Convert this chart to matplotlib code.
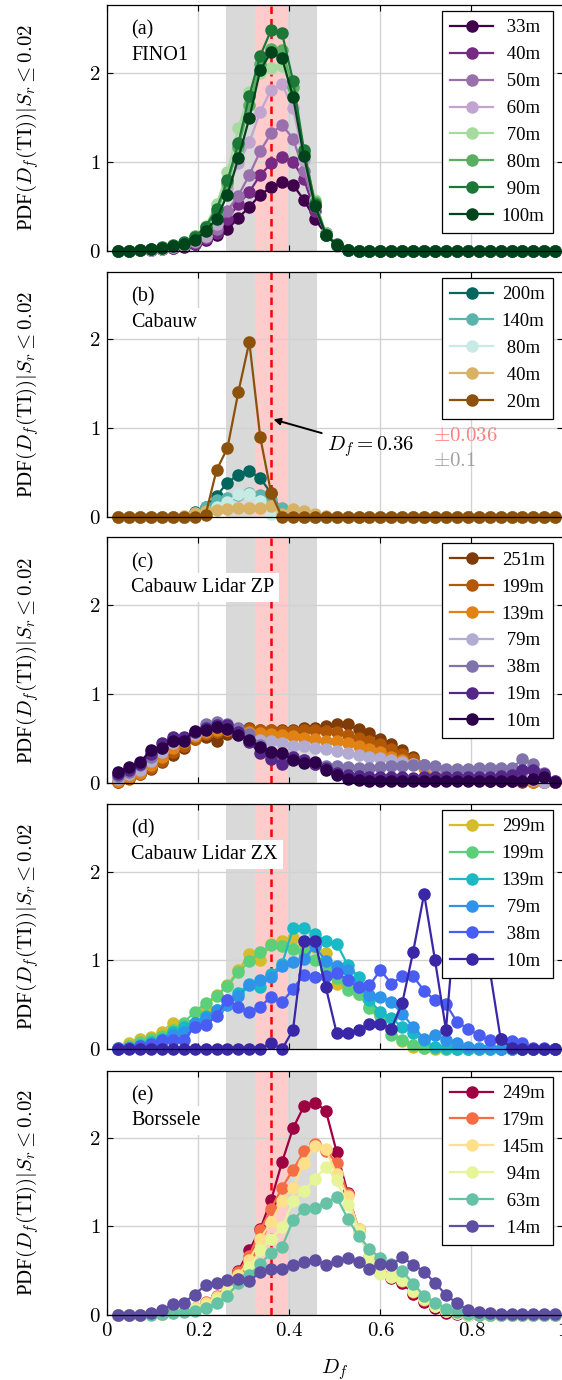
import numpy as np
import matplotlib
matplotlib.use('Agg')
import matplotlib.pyplot as plt

plt.rcParams['font.family'] = ['Liberation Serif', 'DejaVu Serif']
plt.rcParams['mathtext.fontset'] = 'cm'

# D_f bin positions (shared by every series)
df_bins = np.linspace(0.024, 0.984, 41)

x_ticks = [0, 0.2, 0.4, 0.6, 0.8, 1.0]
x_tick_labels = ['$0$', '$0.2$', '$0.4$', '$0.6$', '$0.8$', '$1$']
y_ticks = [0, 1, 2]
y_tick_labels = ['$0$', '$1$', '$2$']

Z19 = [0] * 19

# (a) FINO1
fino_labels = ['33m', '40m', '50m', '60m', '70m', '80m', '90m', '100m']
fino_colors = ['#40004b', '#762a83', '#9970ab', '#c2a5cf', '#a6dba0', '#5aae61', '#1b7837', '#00441b']
fino_33 = [0, 0, 0.01, 0.01, 0.02, 0.03, 0.04, 0.07, 0.12, 0.18, 0.24, 0.37, 0.49, 0.63, 0.71, 0.77, 0.74, 0.57, 0.36, 0.18, 0.06, 0.01] + Z19
fino_40 = [0, 0, 0.01, 0.01, 0.02, 0.03, 0.05, 0.08, 0.13, 0.2, 0.36, 0.52, 0.66, 0.85, 0.98, 1.05, 1.0, 0.8, 0.45, 0.2, 0.06, 0.01] + Z19
fino_50 = [0, 0, 0.01, 0.01, 0.02, 0.04, 0.06, 0.1, 0.15, 0.24, 0.45, 0.62, 0.85, 1.12, 1.32, 1.41, 1.26, 0.89, 0.5, 0.2, 0.06, 0.01] + Z19
fino_60 = [0, 0, 0.01, 0.01, 0.02, 0.04, 0.06, 0.11, 0.17, 0.3, 0.7, 0.98, 1.22, 1.56, 1.81, 1.87, 1.6, 1.02, 0.5, 0.18, 0.05, 0.01] + Z19
fino_70 = [0, 0, 0.01, 0.02, 0.03, 0.05, 0.08, 0.13, 0.28, 0.52, 0.88, 1.38, 1.78, 2.0, 2.05, 2.07, 1.82, 1.09, 0.57, 0.2, 0.06, 0.01] + Z19
fino_80 = [0, 0, 0.01, 0.02, 0.03, 0.05, 0.09, 0.16, 0.27, 0.44, 0.76, 1.17, 1.64, 2.1, 2.27, 2.25, 1.84, 1.11, 0.55, 0.19, 0.06, 0.01] + Z19
fino_90 = [0, 0, 0.01, 0.02, 0.04, 0.06, 0.1, 0.15, 0.27, 0.47, 0.79, 1.21, 1.74, 2.19, 2.48, 2.44, 1.91, 1.13, 0.53, 0.18, 0.07, 0.01] + Z19
fino_100 = [0, 0, 0.01, 0.02, 0.03, 0.05, 0.08, 0.12, 0.22, 0.36, 0.63, 1.04, 1.49, 2.03, 2.23, 2.16, 1.73, 1.06, 0.5, 0.18, 0.06, 0.01] + Z19

# (b) Cabauw
cab_labels = ['200m', '140m', '80m', '40m', '20m']
cab_colors = ['#01665e', '#5ab4ac', '#c7eae5', '#d8b365', '#8c510a']
cab_200 = [0] * 7 + [0.06, 0.12, 0.24, 0.39, 0.48, 0.52, 0.44, 0.27, 0.06, 0.01] + [0] * 24
cab_140 = [0] * 7 + [0.05, 0.12, 0.19, 0.22, 0.25, 0.27, 0.25, 0.2, 0.1, 0.03] + [0] * 24
cab_80 = [0] * 8 + [0.06, 0.12, 0.17, 0.26, 0.26, 0.18, 0.04, 0] + [0] * 25
cab_40 = [0] * 6 + [0.01, 0.05, 0.07, 0.08, 0.09, 0.1, 0.1, 0.11, 0.13, 0.04, 0.09, 0.07, 0.04, 0.02] + [0] * 21
cab_20 = [0] * 8 + [0.03, 0.53, 0.78, 1.41, 1.97, 0.9, 0.27, 0] + [0] * 25

# (c) Cabauw Lidar ZP
zp_labels = ['251m', '199m', '139m', '79m', '38m', '19m', '10m']
zp_colors = ['#7f3b08', '#b35806', '#e08214', '#b2abd2', '#8073ac', '#542788', '#2d004b']
zp_251 = [0.02, 0.06, 0.1, 0.16, 0.24, 0.32, 0.4, 0.5, 0.52, 0.47, 0.55, 0.6, 0.62, 0.6, 0.6, 0.6, 0.6, 0.62, 0.62, 0.64, 0.67,
          0.66, 0.61, 0.56, 0.5, 0.44, 0.37, 0.29, 0.2, 0.13, 0.08, 0.06, 0.04, 0.04, 0.03, 0.03, 0.03, 0.02, 0.02, 0.02, 0.01]
zp_199 = [0.02, 0.05, 0.1, 0.17, 0.25, 0.35, 0.42, 0.5, 0.55, 0.57, 0.6, 0.61, 0.61, 0.6, 0.6, 0.59, 0.59, 0.6, 0.6, 0.59, 0.57,
          0.54, 0.51, 0.47, 0.44, 0.39, 0.33, 0.27, 0.21, 0.16, 0.12, 0.09, 0.07, 0.06, 0.05, 0.04, 0.04, 0.03, 0.03, 0.02, 0.02]
zp_139 = [0.03, 0.07, 0.12, 0.2, 0.3, 0.4, 0.46, 0.53, 0.58, 0.6, 0.6, 0.58, 0.57, 0.56, 0.55, 0.54, 0.53, 0.51, 0.5, 0.48, 0.47,
          0.45, 0.42, 0.39, 0.35, 0.3, 0.26, 0.22, 0.17, 0.14, 0.11, 0.09, 0.07, 0.06, 0.05, 0.04, 0.04, 0.03, 0.02, 0.02, 0.01]
zp_79 = [0.05, 0.1, 0.15, 0.25, 0.35, 0.45, 0.5, 0.55, 0.6, 0.65, 0.65, 0.6, 0.55, 0.49, 0.47, 0.45, 0.42, 0.42, 0.4, 0.38, 0.36,
         0.34, 0.32, 0.3, 0.28, 0.26, 0.24, 0.22, 0.2, 0.17, 0.15, 0.13, 0.12, 0.11, 0.1, 0.09, 0.08, 0.07, 0.04, 0.02, 0.02]
zp_38 = [0.08, 0.13, 0.2, 0.3, 0.4, 0.5, 0.5, 0.58, 0.66, 0.69, 0.67, 0.62, 0.55, 0.43, 0.35, 0.3, 0.27, 0.26, 0.22, 0.19, 0.19,
         0.18, 0.17, 0.17, 0.18, 0.19, 0.19, 0.2, 0.2, 0.19, 0.16, 0.16, 0.16, 0.17, 0.17, 0.17, 0.17, 0.27, 0.22, 0.11, 0.03]
zp_19 = [0.1, 0.15, 0.22, 0.33, 0.45, 0.52, 0.52, 0.58, 0.62, 0.65, 0.65, 0.58, 0.46, 0.34, 0.27, 0.22, 0.29, 0.26, 0.22, 0.17, 0.12,
         0.09, 0.08, 0.07, 0.07, 0.07, 0.07, 0.06, 0.07, 0.07, 0.07, 0.07, 0.07, 0.07, 0.07, 0.08, 0.09, 0.15, 0.15, 0.1, 0.03]
zp_10 = [0.13, 0.18, 0.24, 0.37, 0.4, 0.48, 0.48, 0.59, 0.6, 0.63, 0.61, 0.54, 0.49, 0.41, 0.35, 0.34, 0.26, 0.23, 0.24, 0.15, 0.09,
         0.05, 0.04, 0.03, 0.03, 0.03, 0.03, 0.03, 0.03, 0.03, 0.03, 0.03, 0.03, 0.03, 0.03, 0.03, 0.03, 0.03, 0.05, 0.07, 0.02]

# (d) Cabauw Lidar ZX
zx_labels = ['299m', '199m', '139m', '79m', '38m', '10m']
zx_colors = ['#d4bc2c', '#5ccf7b', '#19b9c6', '#2f93ea', '#4a5df2', '#3a27a8']
zx_299 = [0.01, 0.07, 0.12, 0.14, 0.2, 0.3, 0.24, 0.3, 0.48, 0.61, 0.72, 0.89, 1.07, 1.0, 1.19, 1.22, 1.25, 1.2, 1.15, 1.08, 0.74,
          0.7, 0.62, 0.48, 0.3, 0.22, 0.09, 0.03, 0.01] + [0] * 12
zx_199 = [0.01, 0.04, 0.08, 0.12, 0.15, 0.22, 0.3, 0.42, 0.52, 0.6, 0.71, 0.87, 0.99, 1.09, 1.17, 1.16, 1.13, 1.1, 1.0, 0.9, 0.8,
          0.67, 0.62, 0.46, 0.38, 0.16, 0.1, 0.05, 0.02, 0.01] + [0] * 11
zx_139 = [0, 0.02, 0.05, 0.08, 0.12, 0.2, 0.25, 0.3, 0.38, 0.44, 0.55, 0.63, 0.74, 0.7, 0.85, 0.96, 1.36, 1.37, 1.3, 1.22, 1.19,
          0.95, 0.81, 0.55, 0.42, 0.35, 0.25, 0.18, 0.1, 0.03, 0.01] + [0] * 10
zx_79 = [0, 0.01, 0.03, 0.05, 0.08, 0.16, 0.2, 0.3, 0.35, 0.44, 0.5, 0.6, 0.72, 0.78, 0.81, 0.94, 0.98, 1.02, 1.16, 0.99, 0.94,
         0.89, 0.7, 0.61, 0.59, 0.53, 0.4, 0.25, 0.12, 0.16, 0.1, 0.07, 0.03, 0.02, 0.01] + [0] * 6
zx_38 = [0.01, 0.02, 0.04, 0.06, 0.1, 0.11, 0.11, 0.25, 0.27, 0.38, 0.56, 0.48, 0.42, 0.48, 0.59, 0.53, 0.68, 0.84, 0.81, 0.82, 0.86,
         0.78, 0.7, 0.72, 0.89, 0.74, 0.82, 0.82, 0.66, 0.55, 0.51, 0.31, 0.23, 0.16, 0.1, 0.12, 0.09, 0.07, 0.02, 0.01, 0]
zx_10 = [0] * 14 + [0.07, 0, 0.22, 1.22, 1.22, 0.7, 0.18, 0.18, 0.22, 0.29, 0.29, 0.23, 0.52, 1.1, 1.75, 1.0, 0.22,
                    1.7, 1.9, 1.4, 0.9, 0.12, 0.01, 0, 0, 0, 0]

# (e) Borssele
bor_labels = ['249m', '179m', '145m', '94m', '63m', '14m']
bor_colors = ['#9e0142', '#f46d43', '#fee08b', '#e6f598', '#66c2a5', '#5e4fa2']
bor_249 = [0, 0, 0, 0.01, 0.01, 0.03, 0.04, 0.07, 0.14, 0.2, 0.32, 0.5, 0.73, 0.97, 1.3, 1.73, 2.11, 2.36, 2.4, 2.31, 1.84,
           1.38, 0.96, 0.64, 0.47, 0.42, 0.36, 0.24, 0.15, 0.08, 0.02, 0.01] + [0] * 9
bor_179 = [0, 0, 0, 0.01, 0.01, 0.03, 0.05, 0.08, 0.15, 0.22, 0.33, 0.49, 0.67, 0.96, 1.2, 1.44, 1.64, 1.85, 1.93, 1.85, 1.72,
           1.37, 0.97, 0.66, 0.48, 0.44, 0.38, 0.26, 0.17, 0.1, 0.04, 0.02] + [0] * 9
bor_145 = [0, 0, 0, 0.01, 0.01, 0.03, 0.05, 0.08, 0.13, 0.2, 0.3, 0.45, 0.62, 0.86, 1.05, 1.29, 1.44, 1.72, 1.91, 1.87, 1.59,
           1.35, 0.97, 0.66, 0.48, 0.44, 0.4, 0.27, 0.18, 0.1, 0.05, 0.02] + [0] * 9
bor_94 = [0, 0, 0, 0.01, 0.01, 0.02, 0.04, 0.07, 0.1, 0.17, 0.26, 0.37, 0.54, 0.73, 0.86, 0.99, 1.29, 1.4, 1.54, 1.67, 1.52,
          1.24, 0.94, 0.64, 0.46, 0.43, 0.39, 0.27, 0.18, 0.1, 0.05, 0.02] + [0] * 9
bor_63 = [0, 0, 0, 0, 0.01, 0.02, 0.03, 0.05, 0.08, 0.13, 0.22, 0.36, 0.45, 0.58, 0.7, 0.77, 1.07, 1.2, 1.21, 1.27, 1.33,
          1.09, 0.89, 0.75, 0.64, 0.58, 0.5, 0.35, 0.22, 0.14, 0.07, 0.03, 0.01] + [0] * 8
bor_14 = [0, 0, 0, 0.02, 0.06, 0.12, 0.14, 0.23, 0.34, 0.36, 0.39, 0.41, 0.38, 0.49, 0.52, 0.52, 0.56, 0.6, 0.62, 0.57, 0.61,
          0.64, 0.6, 0.52, 0.58, 0.57, 0.65, 0.57, 0.49, 0.36, 0.23, 0.13, 0.06, 0.03, 0.02, 0.01, 0.01, 0.01, 0.01, 0.01, 0.01]

panels = [
    ('(a)', 'FINO1', fino_labels, fino_colors,
     [fino_33, fino_40, fino_50, fino_60, fino_70, fino_80, fino_90, fino_100]),
    ('(b)', 'Cabauw', cab_labels, cab_colors, [cab_200, cab_140, cab_80, cab_40, cab_20]),
    ('(c)', 'Cabauw Lidar ZP', zp_labels, zp_colors,
     [zp_251, zp_199, zp_139, zp_79, zp_38, zp_19, zp_10]),
    ('(d)', 'Cabauw Lidar ZX', zx_labels, zx_colors, [zx_299, zx_199, zx_139, zx_79, zx_38, zx_10]),
    ('(e)', 'Borssele', bor_labels, bor_colors, [bor_249, bor_179, bor_145, bor_94, bor_63, bor_14]),
]

df_center = 0.36
df_band_narrow = 0.036
df_band_wide = 0.1

ylabel = r'PDF$(D_f(\mathrm{TI}))|S_r \leq 0.02$'

W, H = 562, 1380
fig = plt.figure(figsize=(W / 100, H / 100), dpi=100)

# panel placement in pixels (top, bottom)
tops = [5, 271.7, 537.3, 804, 1070.7]
bottoms = [250.7, 517.3, 783.3, 1049.3, 1315]
left_px, right_px = 107.3, 562.5

axes = []
for i, (tag, name, labels, colors, series) in enumerate(panels):
    ax = fig.add_axes([left_px / W, 1 - bottoms[i] / H,
                       (right_px - left_px) / W, (bottoms[i] - tops[i]) / H])
    axes.append(ax)

    ax.axvspan(df_center - df_band_wide, df_center + df_band_wide, color='#d9d9d9', lw=0, zorder=0.1)
    ax.axvspan(df_center - df_band_narrow, df_center + df_band_narrow, color='#ffcccc', lw=0, zorder=0.2)
    ax.set_axisbelow(True)
    ax.grid(True, color='#d2d2d2', lw=1.0)
    ax.axvline(df_center, color='red', lw=1.8, ls=(0, (3, 2)), zorder=1.9)

    # legend labels are centred in the reference: pad the shorter ones
    longest = max(len(l) for l in labels)
    for vals, lab, col in zip(series, labels, colors):
        assert len(vals) == len(df_bins), (name, lab, len(vals))
        shown = '\u2005' * (longest - len(lab)) + lab
        ax.plot(df_bins, vals, '-o', color=col, lw=1.6, ms=8, label=shown, clip_on=False)

    ax.set_xlim(0, 1)
    ax.set_ylim(0, 2.76)
    ax.set_xticks(x_ticks)
    ax.set_yticks(y_ticks)
    ax.set_yticklabels(y_tick_labels)
    if i == len(panels) - 1:
        ax.set_xticklabels(x_tick_labels)
    else:
        ax.set_xticklabels([])
    ax.tick_params(direction='in', top=True, right=True, length=4, labelsize=15, pad=5)
    for sp in ax.spines.values():
        sp.set_linewidth(0.9)

    ax.set_ylabel(ylabel, fontsize=15)
    ax.yaxis.set_label_coords(-0.145, 0.5)

    ax.text(0.052, 0.898, tag, transform=ax.transAxes, fontsize=14.5, va='center', ha='left', zorder=6)
    ax.text(0.052, 0.795, name, transform=ax.transAxes, fontsize=14.5, va='center', ha='left', zorder=6,
            bbox=dict(facecolor='white', edgecolor='none', boxstyle='square,pad=0.25'))

    leg = ax.legend(loc='upper right', bbox_to_anchor=(0.979, 0.976), borderaxespad=0,
                    fancybox=False, edgecolor='black', framealpha=1, fontsize=13.5,
                    handlelength=2.3, handletextpad=0.45, labelspacing=0.52, borderpad=0.45)
    leg.get_frame().set_linewidth(0.9)
    leg.set_zorder(10)

# annotation in panel (b)
axb = axes[1]
axb.annotate('$D_f = 0.36$', xy=(0.365, 1.1), xytext=(0.483, 0.79), fontsize=15,
             va='center', ha='left', zorder=8,
             arrowprops=dict(arrowstyle='-|>', color='black', lw=1.4, shrinkA=2, shrinkB=0,
                             mutation_scale=10))
axb.text(0.716, 0.91, r'$\pm 0.036$', color='#ff8080', fontsize=15, va='center', ha='left')
axb.text(0.716, 0.63, r'$\pm 0.1$', color='#a0a0a0', fontsize=15, va='center', ha='left')

axes[-1].set_xlabel('$D_f$', fontsize=15, labelpad=12)

fig.savefig('out.png', dpi=100)
